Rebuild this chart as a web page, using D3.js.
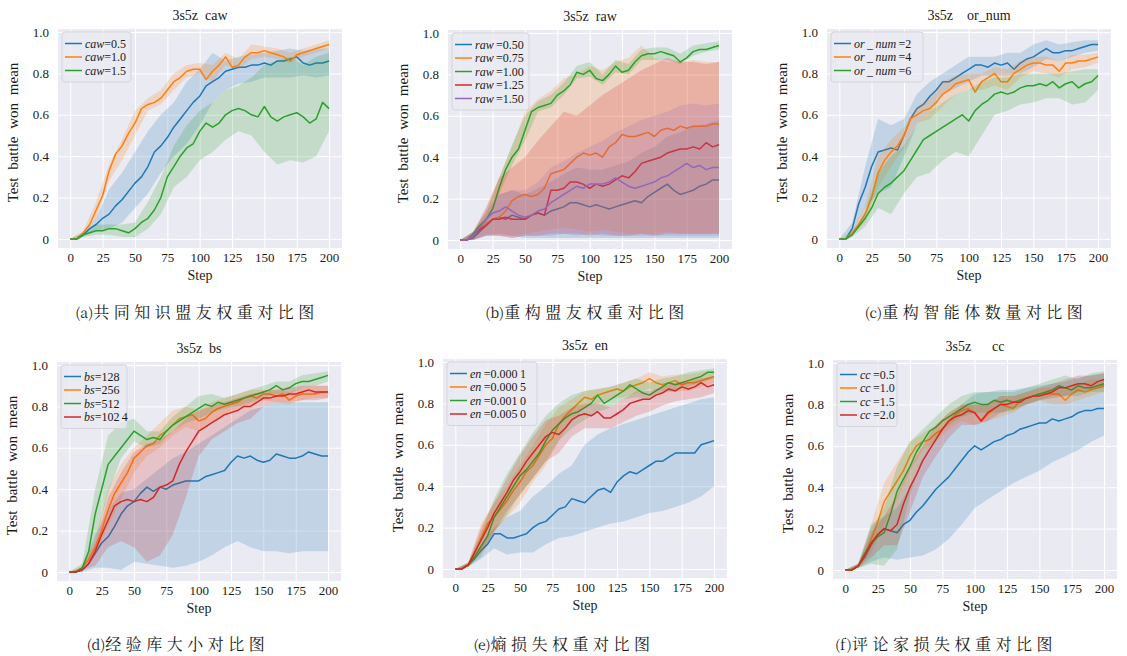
<!DOCTYPE html>
<html>
<head>
<meta charset="utf-8">
<script src="https://cdn.jsdelivr.net/npm/d3@7"></script>
<style>
body { margin: 0; background: #fff; }
text { font-family: "Liberation Serif", "DejaVu Serif", serif; fill: #1a1a1a; }
.cap { font-family: "Noto Serif CJK SC", "Noto Sans CJK SC", sans-serif; }
</style>
</head>
<body>
<script>
// x positions: mean lines every 5 steps, band edges every 10 steps
var steps = d3.range(0, 201, 5);
var bandSteps = d3.range(0, 201, 10);
var xTicks = [0, 25, 50, 75, 100, 125, 150, 175, 200];
var yTicks = [0, 0.2, 0.4, 0.6, 0.8, 1.0];

// (a) caw
var cawLabels = ["=0.5", "=1.0", "=1.5"];
var cawBlue = [0,0,0.02,0.05,0.07,0.10,0.12,0.16,0.19,0.23,0.27,0.30,0.35,0.42,0.45,0.49,0.54,0.58,0.62,0.66,0.69,0.74,0.76,0.78,0.81,0.82,0.83,0.83,0.84,0.84,0.85,0.84,0.86,0.86,0.87,0.88,0.85,0.84,0.85,0.85,0.86];
var cawBlueLo = [0,0.01,0.04,0.05,0.08,0.15,0.22,0.32,0.40,0.46,0.55,0.66,0.72,0.75,0.76,0.78,0.78,0.78,0.79,0.78,0.79];
var cawBlueHi = [0,0.03,0.10,0.24,0.32,0.42,0.52,0.60,0.66,0.76,0.82,0.90,0.86,0.88,0.89,0.90,0.91,0.92,0.91,0.92,0.92];
var cawOrange = [0,0,0.03,0.07,0.14,0.21,0.33,0.41,0.45,0.51,0.56,0.63,0.65,0.66,0.68,0.72,0.76,0.78,0.81,0.82,0.82,0.77,0.81,0.84,0.88,0.83,0.84,0.88,0.90,0.90,0.91,0.90,0.89,0.88,0.86,0.89,0.90,0.91,0.92,0.93,0.94];
var cawOrangeLo = [0,0.02,0.10,0.28,0.38,0.50,0.62,0.65,0.72,0.78,0.80,0.76,0.84,0.82,0.87,0.88,0.87,0.85,0.88,0.90,0.92];
var cawOrangeHi = [0,0.04,0.18,0.36,0.48,0.62,0.68,0.72,0.80,0.84,0.85,0.84,0.90,0.87,0.94,0.93,0.92,0.90,0.92,0.94,0.96];
var cawGreen = [0,0,0.02,0.03,0.04,0.04,0.05,0.05,0.04,0.03,0.05,0.08,0.10,0.14,0.20,0.30,0.35,0.40,0.44,0.46,0.52,0.56,0.54,0.56,0.60,0.62,0.63,0.62,0.60,0.59,0.64,0.59,0.57,0.59,0.60,0.61,0.59,0.56,0.58,0.66,0.63];
var cawGreenLo = [0,0.01,0.02,0.02,0.01,0.01,0.05,0.12,0.25,0.30,0.38,0.42,0.48,0.52,0.50,0.42,0.36,0.38,0.37,0.40,0.52];
var cawGreenHi = [0,0.03,0.07,0.07,0.07,0.08,0.18,0.30,0.45,0.55,0.62,0.66,0.72,0.74,0.78,0.84,0.86,0.88,0.84,0.88,0.90];

// (b) raw
var rawLabels = ["\u2009=0.50", "\u2009=0.75", "\u2009=1.00", "\u2009=1.25", "\u2009=1.50"];
var rawBlue = [0,0,0.01,0.04,0.07,0.10,0.11,0.10,0.12,0.11,0.10,0.12,0.13,0.12,0.14,0.15,0.16,0.18,0.18,0.17,0.16,0.17,0.16,0.15,0.16,0.17,0.18,0.19,0.18,0.21,0.23,0.25,0.27,0.24,0.22,0.23,0.24,0.26,0.27,0.29,0.29];
var rawBlueLo = [0,0,0.02,0.03,0.02,0.01,0.01,0.01,0.01,0.01,0.01,0.01,0.01,0.01,0.01,0.01,0.01,0.01,0.01,0.01,0.01];
var rawBlueHi = [0,0.03,0.10,0.22,0.24,0.22,0.25,0.28,0.32,0.35,0.34,0.34,0.36,0.38,0.42,0.45,0.50,0.52,0.55,0.56,0.58];
var rawOrange = [0,0,0.02,0.05,0.08,0.10,0.11,0.14,0.19,0.21,0.22,0.21,0.22,0.25,0.32,0.33,0.34,0.37,0.40,0.42,0.41,0.42,0.40,0.45,0.47,0.51,0.50,0.50,0.51,0.52,0.50,0.53,0.54,0.53,0.55,0.54,0.55,0.55,0.55,0.56,0.56];
var rawOrangeLo = [0,0,0.03,0.02,0.02,0.03,0.04,0.05,0.06,0.05,0.04,0.05,0.04,0.03,0.03,0.03,0.04,0.03,0.03,0.03,0.03];
var rawOrangeHi = [0,0.04,0.15,0.30,0.45,0.62,0.68,0.72,0.78,0.80,0.84,0.82,0.86,0.88,0.94,0.88,0.86,0.86,0.87,0.86,0.86];
var rawGreen = [0,0,0.03,0.07,0.10,0.15,0.25,0.34,0.40,0.44,0.53,0.62,0.64,0.65,0.66,0.70,0.72,0.75,0.81,0.80,0.82,0.78,0.77,0.80,0.84,0.81,0.82,0.86,0.89,0.90,0.90,0.91,0.90,0.89,0.86,0.88,0.91,0.92,0.92,0.93,0.94];
var rawGreenLo = [0,0.02,0.08,0.22,0.36,0.48,0.62,0.64,0.70,0.78,0.79,0.75,0.81,0.80,0.87,0.87,0.87,0.85,0.89,0.91,0.92];
var rawGreenHi = [0,0.04,0.13,0.30,0.46,0.60,0.67,0.70,0.76,0.84,0.86,0.80,0.87,0.85,0.92,0.93,0.93,0.90,0.94,0.95,0.96];
var rawRed = [0,0,0.02,0.05,0.07,0.10,0.10,0.11,0.10,0.10,0.10,0.12,0.13,0.12,0.24,0.24,0.25,0.28,0.28,0.27,0.25,0.27,0.26,0.27,0.29,0.31,0.30,0.33,0.37,0.38,0.39,0.40,0.42,0.43,0.44,0.44,0.45,0.44,0.47,0.45,0.46];
var rawRedLo = [0,0,0.02,0.02,0.01,0.02,0.02,0.03,0.03,0.03,0.02,0.03,0.02,0.02,0.03,0.02,0.03,0.03,0.03,0.03,0.03];
var rawRedHi = [0,0.04,0.16,0.30,0.35,0.40,0.48,0.55,0.62,0.60,0.65,0.70,0.74,0.78,0.82,0.85,0.88,0.86,0.86,0.85,0.86];
var rawPurple = [0,0,0.02,0.06,0.10,0.13,0.14,0.16,0.14,0.12,0.11,0.12,0.14,0.15,0.18,0.20,0.22,0.24,0.26,0.25,0.27,0.27,0.27,0.28,0.30,0.28,0.26,0.25,0.26,0.27,0.28,0.30,0.31,0.33,0.35,0.37,0.35,0.36,0.34,0.35,0.35];
var rawPurpleLo = [0,0,0.02,0.02,0.01,0.02,0.02,0.02,0.03,0.02,0.03,0.02,0.02,0.02,0.02,0.02,0.02,0.02,0.02,0.02,0.02];
var rawPurpleHi = [0,0.04,0.14,0.22,0.24,0.24,0.28,0.35,0.38,0.42,0.45,0.48,0.52,0.55,0.58,0.60,0.62,0.65,0.66,0.65,0.66];

// (c) or_num
var orLabels = ["\u2009=2", "\u2009=4", "\u2009=6"];
var orBlue = [0,0,0.05,0.17,0.25,0.35,0.42,0.43,0.44,0.43,0.50,0.58,0.63,0.65,0.69,0.72,0.76,0.76,0.78,0.80,0.82,0.84,0.84,0.83,0.85,0.84,0.85,0.82,0.85,0.87,0.88,0.90,0.92,0.90,0.90,0.91,0.91,0.92,0.93,0.94,0.94];
var orBlueLo = [0,0.03,0.15,0.22,0.25,0.40,0.55,0.62,0.70,0.73,0.76,0.79,0.79,0.79,0.80,0.83,0.87,0.86,0.88,0.90,0.91];
var orBlueHi = [0,0.08,0.35,0.58,0.55,0.58,0.70,0.76,0.80,0.84,0.88,0.88,0.88,0.90,0.90,0.94,0.96,0.94,0.95,0.96,0.96];
var orOrange = [0,0,0.03,0.07,0.12,0.20,0.32,0.38,0.42,0.45,0.50,0.58,0.60,0.62,0.63,0.66,0.70,0.72,0.75,0.76,0.77,0.71,0.76,0.78,0.80,0.76,0.76,0.80,0.82,0.84,0.85,0.85,0.84,0.84,0.81,0.85,0.85,0.86,0.86,0.87,0.88];
var orOrangeLo = [0,0.02,0.08,0.25,0.35,0.44,0.56,0.58,0.64,0.70,0.72,0.72,0.74,0.72,0.78,0.81,0.80,0.78,0.82,0.83,0.85];
var orOrangeHi = [0,0.04,0.16,0.40,0.48,0.54,0.64,0.68,0.76,0.79,0.80,0.80,0.83,0.82,0.86,0.88,0.88,0.86,0.89,0.89,0.90];
var orGreen = [0,0,0.02,0.06,0.10,0.15,0.22,0.25,0.27,0.30,0.33,0.38,0.43,0.48,0.50,0.52,0.54,0.56,0.58,0.60,0.57,0.62,0.65,0.67,0.70,0.71,0.70,0.71,0.73,0.74,0.74,0.75,0.74,0.76,0.73,0.75,0.76,0.73,0.75,0.76,0.79];
var orGreenLo = [0,0.01,0.06,0.15,0.12,0.22,0.30,0.32,0.38,0.42,0.40,0.50,0.60,0.62,0.65,0.66,0.68,0.68,0.65,0.66,0.72];
var orGreenHi = [0,0.03,0.14,0.32,0.40,0.45,0.55,0.62,0.66,0.70,0.72,0.76,0.78,0.78,0.80,0.80,0.80,0.80,0.81,0.82,0.82];

// (d) bs
var bsLabels = ["=128", "=256", "=512", "=102\u20094"];
var bsBlue = [0,0,0.01,0.04,0.09,0.14,0.17,0.22,0.28,0.32,0.34,0.38,0.41,0.39,0.41,0.40,0.42,0.43,0.44,0.44,0.44,0.46,0.47,0.48,0.49,0.53,0.56,0.55,0.56,0.54,0.53,0.54,0.57,0.56,0.55,0.55,0.56,0.58,0.57,0.56,0.56];
var bsBlueLo = [0,0,0.02,0.02,0.01,0.05,0.04,0.03,0.02,0.03,0.05,0.08,0.12,0.15,0.12,0.10,0.10,0.09,0.10,0.10,0.10];
var bsBlueHi = [0,0.02,0.18,0.30,0.38,0.40,0.45,0.50,0.55,0.58,0.62,0.66,0.70,0.74,0.78,0.80,0.82,0.82,0.82,0.82,0.82];
var bsOrange = [0,0,0.02,0.06,0.12,0.20,0.30,0.38,0.43,0.48,0.55,0.58,0.61,0.62,0.66,0.68,0.71,0.74,0.75,0.76,0.73,0.74,0.77,0.79,0.80,0.81,0.82,0.84,0.85,0.84,0.86,0.86,0.85,0.86,0.83,0.85,0.86,0.86,0.86,0.87,0.87];
var bsOrangeLo = [0,0.01,0.08,0.22,0.35,0.48,0.56,0.60,0.66,0.70,0.68,0.72,0.76,0.79,0.81,0.83,0.82,0.81,0.83,0.84,0.84];
var bsOrangeHi = [0,0.03,0.16,0.40,0.52,0.60,0.66,0.72,0.78,0.80,0.78,0.82,0.84,0.86,0.88,0.88,0.88,0.87,0.89,0.90,0.90];
var bsGreen = [0,0,0.02,0.10,0.28,0.40,0.52,0.56,0.60,0.64,0.68,0.66,0.64,0.65,0.64,0.68,0.71,0.73,0.75,0.77,0.79,0.81,0.80,0.82,0.81,0.82,0.83,0.84,0.85,0.86,0.87,0.88,0.90,0.88,0.89,0.91,0.92,0.92,0.93,0.94,0.95];
var bsGreenLo = [0,0.01,0.14,0.38,0.55,0.63,0.60,0.62,0.68,0.72,0.74,0.77,0.79,0.80,0.82,0.84,0.86,0.86,0.89,0.90,0.92];
var bsGreenHi = [0,0.04,0.40,0.66,0.72,0.74,0.68,0.68,0.75,0.80,0.85,0.86,0.84,0.86,0.88,0.90,0.92,0.92,0.95,0.96,0.97];
var bsRed = [0,0,0.01,0.04,0.10,0.18,0.25,0.32,0.34,0.35,0.34,0.35,0.34,0.36,0.41,0.42,0.44,0.52,0.58,0.63,0.68,0.70,0.72,0.74,0.76,0.77,0.78,0.80,0.80,0.82,0.84,0.84,0.85,0.85,0.86,0.86,0.87,0.88,0.87,0.87,0.87];
var bsRedLo = [0,0.01,0.03,0.12,0.15,0.12,0.05,0.08,0.18,0.36,0.56,0.64,0.68,0.72,0.74,0.80,0.82,0.82,0.83,0.83,0.84];
var bsRedHi = [0,0.02,0.14,0.36,0.48,0.58,0.62,0.64,0.68,0.74,0.78,0.80,0.82,0.84,0.86,0.87,0.88,0.89,0.90,0.90,0.90];

// (e) en
var enLabels = ["\u2009=0.000\u20091", "\u2009=0.000\u20095", "\u2009=0.001\u20090", "\u2009=0.005\u20090"];
var enBlue = [0,0,0.02,0.05,0.09,0.12,0.17,0.17,0.15,0.15,0.16,0.17,0.20,0.22,0.23,0.26,0.29,0.30,0.34,0.33,0.32,0.35,0.38,0.39,0.37,0.42,0.45,0.47,0.46,0.48,0.50,0.52,0.52,0.54,0.56,0.56,0.56,0.56,0.60,0.61,0.62];
var enBlueLo = [0,0.01,0.05,0.10,0.07,0.08,0.08,0.12,0.15,0.16,0.18,0.20,0.22,0.23,0.25,0.27,0.28,0.30,0.32,0.35,0.40];
var enBlueHi = [0,0.03,0.12,0.20,0.25,0.28,0.35,0.40,0.46,0.50,0.60,0.65,0.68,0.70,0.72,0.74,0.76,0.78,0.80,0.82,0.83];
var enOrange = [0,0,0.02,0.08,0.15,0.22,0.25,0.29,0.33,0.38,0.42,0.47,0.50,0.55,0.60,0.63,0.70,0.74,0.77,0.80,0.83,0.82,0.84,0.85,0.86,0.87,0.86,0.88,0.89,0.90,0.92,0.90,0.89,0.90,0.91,0.89,0.90,0.90,0.91,0.92,0.93];
var enOrangeLo = [0,0.01,0.08,0.18,0.25,0.32,0.42,0.50,0.62,0.72,0.78,0.80,0.82,0.83,0.85,0.87,0.86,0.86,0.86,0.88,0.90];
var enOrangeHi = [0,0.03,0.22,0.32,0.40,0.50,0.60,0.70,0.78,0.82,0.86,0.87,0.88,0.90,0.92,0.95,0.93,0.94,0.94,0.95,0.96];
var enGreen = [0,0,0.02,0.06,0.11,0.16,0.25,0.30,0.35,0.40,0.45,0.48,0.52,0.56,0.62,0.67,0.70,0.73,0.75,0.76,0.78,0.80,0.84,0.80,0.82,0.84,0.86,0.89,0.87,0.85,0.84,0.86,0.88,0.90,0.89,0.90,0.91,0.92,0.93,0.95,0.95];
var enGreenLo = [0,0.01,0.06,0.18,0.26,0.36,0.44,0.52,0.62,0.68,0.72,0.76,0.78,0.82,0.83,0.82,0.85,0.86,0.88,0.90,0.92];
var enGreenHi = [0,0.03,0.18,0.34,0.46,0.56,0.66,0.74,0.80,0.84,0.86,0.87,0.88,0.90,0.92,0.90,0.92,0.93,0.95,0.96,0.97];
var enRed = [0,0,0.02,0.08,0.14,0.20,0.27,0.32,0.37,0.43,0.47,0.52,0.56,0.60,0.64,0.66,0.65,0.68,0.72,0.74,0.75,0.74,0.76,0.73,0.73,0.75,0.77,0.80,0.81,0.82,0.82,0.84,0.85,0.87,0.86,0.88,0.87,0.88,0.90,0.88,0.89];
var enRedLo = [0,0.01,0.08,0.18,0.28,0.36,0.44,0.52,0.56,0.64,0.68,0.68,0.68,0.71,0.74,0.76,0.79,0.81,0.82,0.83,0.85];
var enRedHi = [0,0.03,0.20,0.32,0.44,0.55,0.64,0.72,0.74,0.78,0.80,0.80,0.78,0.82,0.86,0.86,0.88,0.90,0.91,0.92,0.93];

// (f) cc
var ccLabels = ["\u2009=0.5", "\u2009=1.0", "\u2009=1.5", "\u2009=2.0"];
var ccBlue = [0,0,0.02,0.06,0.12,0.17,0.20,0.19,0.18,0.22,0.24,0.28,0.31,0.35,0.39,0.42,0.45,0.49,0.53,0.57,0.60,0.58,0.60,0.62,0.63,0.65,0.66,0.68,0.69,0.70,0.71,0.71,0.73,0.72,0.73,0.74,0.76,0.77,0.77,0.78,0.78];
var ccBlueLo = [0,0.01,0.04,0.06,0.05,0.06,0.07,0.10,0.15,0.22,0.30,0.34,0.38,0.42,0.45,0.48,0.52,0.55,0.58,0.62,0.65];
var ccBlueHi = [0,0.03,0.22,0.26,0.30,0.40,0.55,0.65,0.72,0.80,0.85,0.86,0.87,0.87,0.88,0.89,0.90,0.91,0.93,0.94,0.95];
var ccOrange = [0,0,0.02,0.07,0.15,0.23,0.33,0.38,0.43,0.48,0.55,0.60,0.62,0.63,0.66,0.68,0.72,0.75,0.77,0.78,0.76,0.72,0.75,0.78,0.80,0.79,0.78,0.82,0.83,0.84,0.85,0.85,0.85,0.85,0.82,0.85,0.87,0.86,0.87,0.88,0.89];
var ccOrangeLo = [0,0.01,0.08,0.22,0.34,0.48,0.58,0.62,0.68,0.72,0.70,0.72,0.74,0.76,0.80,0.82,0.80,0.80,0.82,0.84,0.86];
var ccOrangeHi = [0,0.03,0.22,0.42,0.52,0.62,0.66,0.70,0.76,0.80,0.80,0.80,0.84,0.84,0.86,0.88,0.88,0.87,0.90,0.92,0.92];
var ccGreen = [0,0,0.02,0.08,0.13,0.16,0.18,0.27,0.38,0.44,0.50,0.57,0.62,0.67,0.69,0.72,0.74,0.76,0.78,0.80,0.81,0.80,0.80,0.82,0.81,0.82,0.81,0.82,0.83,0.84,0.85,0.86,0.87,0.89,0.88,0.87,0.89,0.88,0.88,0.89,0.90];
var ccGreenLo = [0,0.01,0.03,0.02,0.10,0.36,0.55,0.64,0.70,0.74,0.76,0.76,0.76,0.77,0.80,0.82,0.84,0.84,0.84,0.86,0.86];
var ccGreenHi = [0,0.03,0.20,0.30,0.50,0.62,0.68,0.74,0.80,0.84,0.86,0.86,0.86,0.86,0.88,0.90,0.92,0.94,0.92,0.95,0.96];
var ccRed = [0,0,0.02,0.07,0.13,0.17,0.20,0.19,0.22,0.32,0.40,0.46,0.53,0.58,0.63,0.68,0.72,0.74,0.75,0.77,0.76,0.72,0.76,0.78,0.80,0.80,0.81,0.81,0.83,0.84,0.84,0.85,0.86,0.88,0.88,0.89,0.90,0.90,0.89,0.91,0.92];
var ccRedLo = [0,0.01,0.06,0.12,0.12,0.28,0.45,0.55,0.64,0.70,0.70,0.72,0.76,0.78,0.80,0.82,0.83,0.84,0.86,0.87,0.88];
var ccRedHi = [0,0.03,0.18,0.26,0.36,0.50,0.60,0.70,0.76,0.80,0.80,0.80,0.84,0.84,0.86,0.88,0.90,0.92,0.94,0.94,0.95];

var blue = "#1f77b4", orange = "#ff7f0e", green = "#2ca02c", red = "#d62728", purple = "#9467bd";

var panels = [
  { left: 58, top: 29, title: "3s5z\u2002caw", v: "caw", labels: cawLabels, legW: 69,
    tag: "(a)", caption: "共同知识盟友权重对比图", capX: 197, capY: 318,
    series: [[cawBlue, cawBlueLo, cawBlueHi, blue], [cawOrange, cawOrangeLo, cawOrangeHi, orange], [cawGreen, cawGreenLo, cawGreenHi, green]] },
  { left: 448, top: 30, title: "3s5z\u2002raw", v: "raw", labels: rawLabels, legW: 77,
    tag: "(b)", caption: "重构盟友权重对比图", capX: 587, capY: 318,
    series: [[rawBlue, rawBlueLo, rawBlueHi, blue], [rawOrange, rawOrangeLo, rawOrangeHi, orange], [rawGreen, rawGreenLo, rawGreenHi, green], [rawRed, rawRedLo, rawRedHi, red], [rawPurple, rawPurpleLo, rawPurpleHi, purple]] },
  { left: 827, top: 29, title: "3s5z\u2003or_num", v: "or\u2009_\u2009num", labels: orLabels, legW: 92,
    tag: "(c)", caption: "重构智能体数量对比图", capX: 976, capY: 318,
    series: [[orBlue, orBlueLo, orBlueHi, blue], [orOrange, orOrangeLo, orOrangeHi, orange], [orGreen, orGreenLo, orGreenHi, green]] },
  { left: 57, top: 362, title: "3s5z\u2002bs", v: "bs", labels: bsLabels, legW: 66,
    tag: "(d)", caption: "经验库大小对比图", capX: 178, capY: 650,
    series: [[bsBlue, bsBlueLo, bsBlueHi, blue], [bsOrange, bsOrangeLo, bsOrangeHi, orange], [bsGreen, bsGreenLo, bsGreenHi, green], [bsRed, bsRedLo, bsRedHi, red]] },
  { left: 443, top: 359, title: "3s5z\u2002en", v: "en", labels: enLabels, legW: 90,
    tag: "(e)", caption: "熵损失权重对比图", capX: 564, capY: 650,
    series: [[enBlue, enBlueLo, enBlueHi, blue], [enOrange, enOrangeLo, enOrangeHi, orange], [enGreen, enGreenLo, enGreenHi, green], [enRed, enRedLo, enRedHi, red]] },
  { left: 833, top: 360, title: "3s5z\u2003\u2002cc", v: "cc", labels: ccLabels, legW: 60,
    tag: "(f)", caption: "评论家损失权重对比图", capX: 946, capY: 650,
    series: [[ccBlue, ccBlueLo, ccBlueHi, blue], [ccOrange, ccOrangeLo, ccOrangeHi, orange], [ccGreen, ccGreenLo, ccGreenHi, green], [ccRed, ccRedLo, ccRedHi, red]] }
];

var width = 1127, height = 656, pw = 284, ph = 219;

var svg = d3.select("body").append("svg")
  .attr("width", width)
  .attr("height", height);

panels.forEach(drawPanel);

function drawPanel(p) {
  var g = svg.append("g").attr("transform", "translate(" + p.left + "," + p.top + ")");
  var x = d3.scaleLinear().domain([-9.5, 210]).range([0, pw]);
  var y = d3.scaleLinear().domain([-0.0435, 1.0145]).range([ph, 0]);

  g.append("rect").attr("width", pw).attr("height", ph).attr("fill", "#eaeaf2");

  var xa = g.append("g").attr("transform", "translate(0," + ph + ")")
    .call(d3.axisBottom(x).tickValues(xTicks).tickSize(-ph).tickPadding(5).tickFormat(d3.format("d")));
  var ya = g.append("g")
    .call(d3.axisLeft(y).tickValues(yTicks).tickSize(-pw).tickPadding(9)
      .tickFormat(function (d) { return d === 0 ? "0" : d.toFixed(1); }));
  [xa, ya].forEach(function (a) {
    a.select(".domain").remove();
    a.selectAll("line").attr("stroke", "#fff").attr("stroke-width", 1);
    a.selectAll("text").attr("font-size", 13).attr("fill", "#1a1a1a")
      .style("font-family", '"Liberation Serif", serif');
  });

  var line = d3.line()
    .x(function (d, i) { return x(steps[i]); })
    .y(function (d) { return y(d); });
  var area = d3.area()
    .x(function (d, i) { return x(bandSteps[i]); })
    .y0(function (d) { return y(d[0]); })
    .y1(function (d) { return y(d[1]); });

  p.series.forEach(function (s) {
    g.append("path")
      .datum(d3.zip(s[1], s[2]))
      .attr("d", area)
      .attr("fill", s[3])
      .attr("fill-opacity", 0.2);
    g.append("path")
      .datum(s[0])
      .attr("d", line)
      .attr("fill", "none")
      .attr("stroke", s[3])
      .attr("stroke-width", 1.5)
      .attr("stroke-linejoin", "round");
  });

  // legend
  var rowH = 13.5, n = p.series.length;
  var leg = g.append("g").attr("transform", "translate(4,3)");
  leg.append("rect")
    .attr("width", p.legW).attr("height", 11 + (n - 1) * rowH + 12)
    .attr("rx", 3).attr("fill", "#eaeaf2").attr("fill-opacity", 0.8)
    .attr("stroke", "#d4d4da").attr("stroke-width", 1);
  p.series.forEach(function (s, i) {
    var yy = 11.5 + i * rowH;
    leg.append("line").attr("x1", 3).attr("x2", 20).attr("y1", yy).attr("y2", yy)
      .attr("stroke", s[3]).attr("stroke-width", 1.5);
    var t = leg.append("text").attr("x", 23).attr("y", yy + 4).attr("font-size", 12);
    t.append("tspan").attr("font-style", "italic").text(p.v);
    t.append("tspan").text(p.labels[i]);
  });

  g.append("text").attr("x", pw / 2).attr("y", -9).attr("text-anchor", "middle")
    .attr("font-size", 14).text(p.title);
  g.append("text").attr("x", pw / 2).attr("y", ph + 32).attr("text-anchor", "middle")
    .attr("font-size", 14).text("Step");
  g.append("text")
    .attr("transform", "translate(-40," + (ph / 2 - 6) + ") rotate(-90)")
    .attr("text-anchor", "middle").attr("font-size", 15).attr("word-spacing", 4)
    .text("Test battle won mean");

  var cap = svg.append("text").attr("class", "cap")
    .attr("x", p.capX).attr("y", p.capY).attr("text-anchor", "middle")
    .attr("font-size", 16);
  cap.append("tspan").attr("font-size", 14).text(p.tag);
  cap.append("tspan").attr("letter-spacing", 4.5).text(p.caption);
}
</script>
</body>
</html>
